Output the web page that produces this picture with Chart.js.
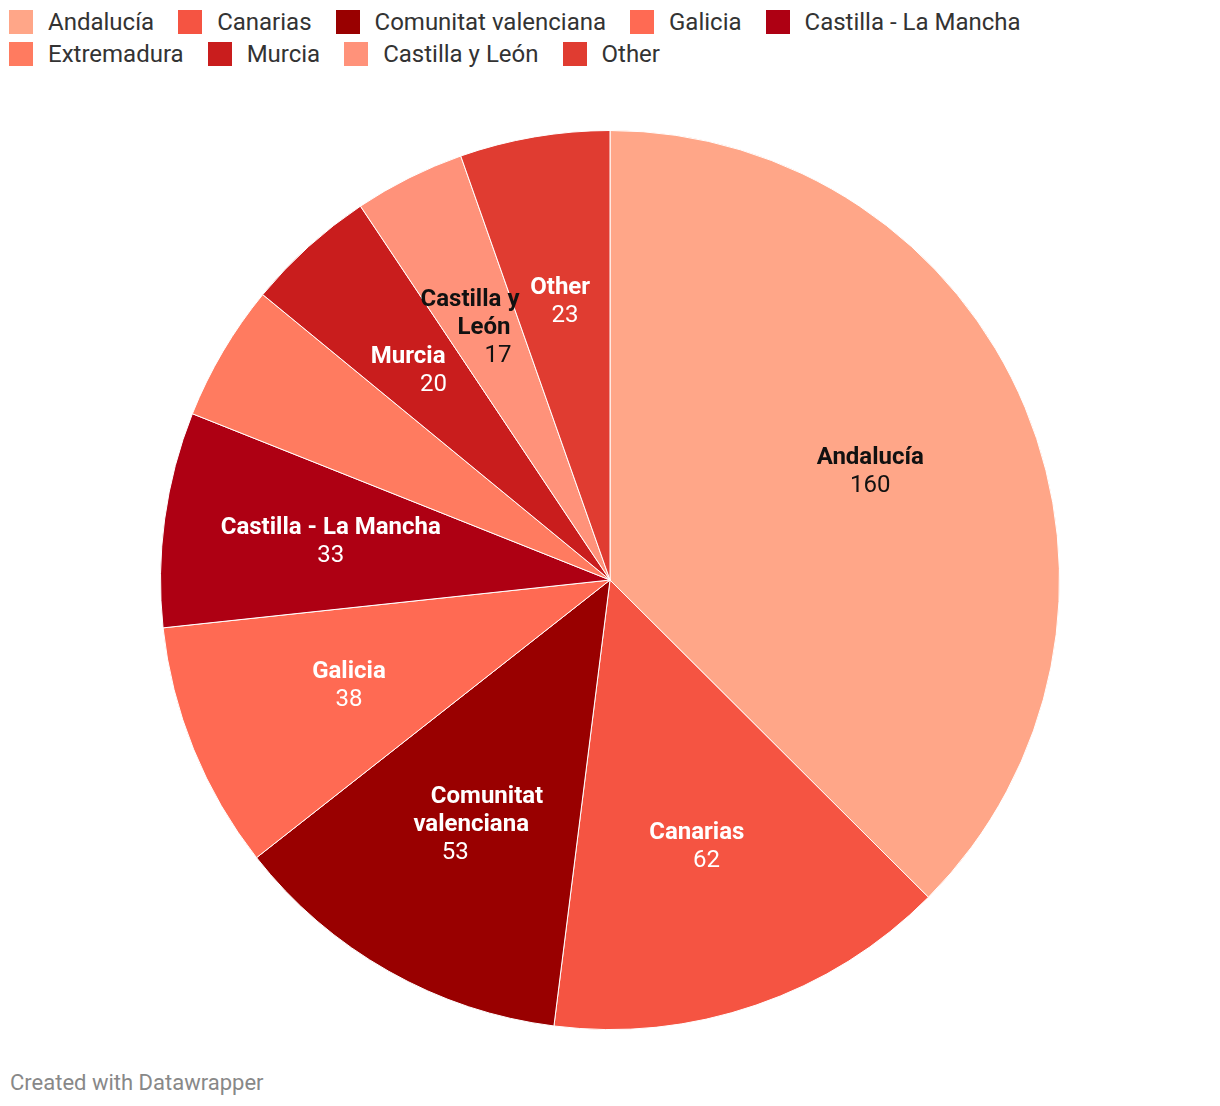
<!DOCTYPE html>
<html>
<head>
<meta charset="utf-8">
<script src="https://cdn.jsdelivr.net/npm/chart.js@4"></script>
<style>
  html, body { margin: 0; padding: 0; background: #fff; font-family: Roboto, "Noto Sans", sans-serif; }
  #wrap { position: relative; width: 1220px; height: 1106px; }
  #legend { position: absolute; left: 9px; top: 10px; width: 1100px; display: flex; flex-wrap: wrap; row-gap: 8px; }
  .li { display: flex; align-items: center; margin-right: 24px; height: 24px; }
  .sw { width: 24px; height: 24px; margin-right: 15px; flex: none; }
  .lt { font-size: 24px; color: #333; white-space: nowrap; line-height: 24px; }
  #box { position: absolute; left: 160px; top: 130px; width: 900px; height: 900px; }
  #foot { position: absolute; left: 10px; top: 1070px; font-size: 22px; color: #888; }
</style>
</head>
<body>
<div id="wrap">
  <div id="legend"></div>
  <div id="box"><canvas id="c"></canvas></div>
  <div id="foot">Created with Datawrapper</div>
</div>
<script>
const categories = ["Andalucía", "Canarias", "Comunitat valenciana", "Galicia", "Castilla - La Mancha", "Extremadura", "Murcia", "Castilla y León", "Other"];
const values = [160, 62, 53, 38, 33, 21, 20, 17, 23];
const colors = ["#ffa688", "#f55442", "#990000", "#ff6a53", "#ae0013", "#ff7b60", "#c91d1d", "#ff927a", "#e03c31"];
const sliceLabelLines = [["Andalucía"], ["Canarias"], ["Comunitat", "valenciana"], ["Galicia"], ["Castilla - La Mancha"], [], ["Murcia"], ["Castilla y", "León"], ["Other"]];
const labelTextColors = ["#111", "#fff", "#fff", "#fff", "#fff", "#fff", "#fff", "#111", "#fff"];

// HTML legend
const legend = document.getElementById('legend');
categories.forEach((c, i) => {
  const li = document.createElement('div'); li.className = 'li';
  const sw = document.createElement('div'); sw.className = 'sw'; sw.style.background = colors[i];
  const t = document.createElement('div'); t.className = 'lt'; t.textContent = c;
  li.appendChild(sw); li.appendChild(t); legend.appendChild(li);
});

const BOLD = 'bold 24px Roboto', REG = '24px Roboto';
const sliceLabels = {
  id: 'sliceLabels',
  afterDatasetsDraw(chart) {
    const ctx = chart.ctx;
    const meta = chart.getDatasetMeta(0);
    const lh = 28, gap = 10;
    const labels = meta.data.map((arc, i) => {
      const lines = sliceLabelLines[i];
      if (!lines.length) return null;
      const p = arc.getProps(['startAngle', 'endAngle', 'outerRadius', 'x', 'y'], true);
      const mid = (p.startAngle + p.endAngle) / 2;
      const ux = Math.cos(mid), uy = Math.sin(mid);
      const r = p.outerRadius * 0.627;
      const cx = p.x + ux * r;
      const cy = p.y + uy * r;
      const followRay = Math.abs(uy) > Math.abs(ux);
      const items = lines.map(t => ({ t, font: BOLD })).concat([{ t: String(values[i]), font: REG }]);
      items.forEach((it, k) => {
        ctx.font = it.font;
        it.w = ctx.measureText(it.t).width;
        it.y = cy + (k - (items.length - 1) / 2) * lh;
        it.x = followRay ? cx + (it.y - cy) * ux / uy : cx;
      });
      return { items, i, dx: 0 };
    });
    // collision avoidance: nudge earlier labels left of later ones
    const placed = [];
    for (let k = labels.length - 1; k >= 0; k--) {
      const L = labels[k];
      if (!L) continue;
      let shift = 0;
      placed.forEach(P => {
        L.items.forEach(a => {
          P.items.forEach(b => {
            if (Math.abs(a.y - b.y) < 20) {
              const aR = a.x + a.w / 2, aL = a.x - a.w / 2;
              const bL = b.x + P.dx - b.w / 2, bR = b.x + P.dx + b.w / 2;
              if (aR + gap > bL && aL < bR) shift = Math.max(shift, aR + gap - bL);
            }
          });
        });
      });
      L.dx = -shift;
      placed.push(L);
    }
    ctx.save();
    ctx.textAlign = 'center';
    ctx.textBaseline = 'middle';
    labels.forEach(L => {
      if (!L) return;
      ctx.fillStyle = labelTextColors[L.i];
      L.items.forEach(it => { ctx.font = it.font; ctx.fillText(it.t, it.x + L.dx, it.y); });
    });
    ctx.restore();
  }
};

new Chart(document.getElementById('c'), {
  type: 'pie',
  data: {
    labels: categories,
    datasets: [{ data: values, backgroundColor: colors, borderColor: '#ffffff', borderWidth: 1 }]
  },
  options: {
    responsive: true,
    maintainAspectRatio: false,
    animation: false,
    layout: { padding: 0 },
    plugins: { legend: { display: false }, tooltip: { enabled: false } }
  },
  plugins: [sliceLabels]
});
</script>
</body>
</html>
